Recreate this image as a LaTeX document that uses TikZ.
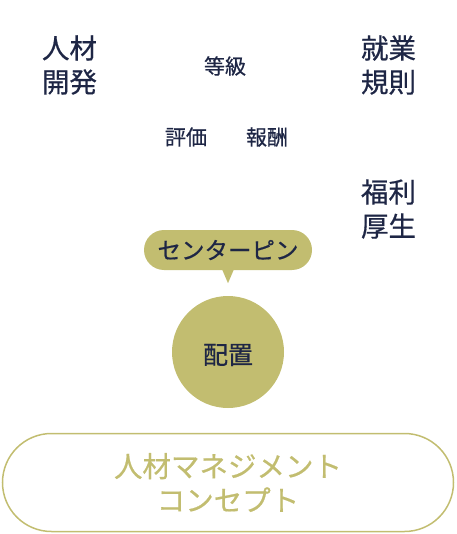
\documentclass[tikz,border=0pt]{standalone}
\usepackage{fontspec}
\usepackage{tikz}
\usetikzlibrary{shapes,positioning,calc}
\newfontfamily\jpfont[FakeBold=0.6]{Noto Sans CJK JP}
\definecolor{olive}{HTML}{C2BD70}
\definecolor{navy}{HTML}{1E2645}

\tikzset{
  bigword/.style={font=\jpfont\fontsize{27.5}{34}\selectfont, text=navy, align=center, inner sep=0pt},
  smallword/.style={font=\jpfont\fontsize{21}{24}\selectfont, text=navy, inner sep=0pt},
  pinbox/.style={fill=olive, rounded corners=20pt, minimum width=168pt, minimum height=40pt, font=\jpfont\fontsize{23.5}{26}\selectfont, text=navy},
  core/.style={circle, fill=olive, minimum size=112pt},
  coreword/.style={font=\jpfont\fontsize{25}{28}\selectfont, text=navy, inner sep=0pt},
  concept/.style={draw=olive, line width=1.5pt, rounded corners=49pt, minimum width=451pt, minimum height=98pt, font=\jpfont\fontsize{28.5}{34}\selectfont, text=olive, align=center}
}

\begin{document}
\begin{tikzpicture}[x=1pt, y=-1pt]
  \useasboundingbox (0,0) rectangle (456,534);

  % four corners and the middle words
  \node[bigword] (dev) at (69.5,65) {人材\\開発};
  \node[bigword] (rules) at (388.5,65) {就業\\規則};
  \node[bigword] (welfare) at (388.5,209) {福利\\厚生};
  \node[smallword] (grade) at (225,66) {等級};
  \node[smallword] (eval) at (186,137) {評価};
  \node[smallword] (pay) at (267,137) {報酬};

  % center pin
  \node[pinbox] (pin) at (228,250) {センターピン};
  \fill[olive] ($(pin.south)+(-6,-1)$) -- ($(pin.south)+(6,-1)$) -- ($(pin.south)+(0,13)$) -- cycle;
  \node[core] (place) at (228,352) {};
  \node[coreword] (placeword) at (228,355) {配置};

  % concept frame
  \node[concept] (base) at (228,482.5) {人材マネジメント\\コンセプト};
\end{tikzpicture}
\end{document}
